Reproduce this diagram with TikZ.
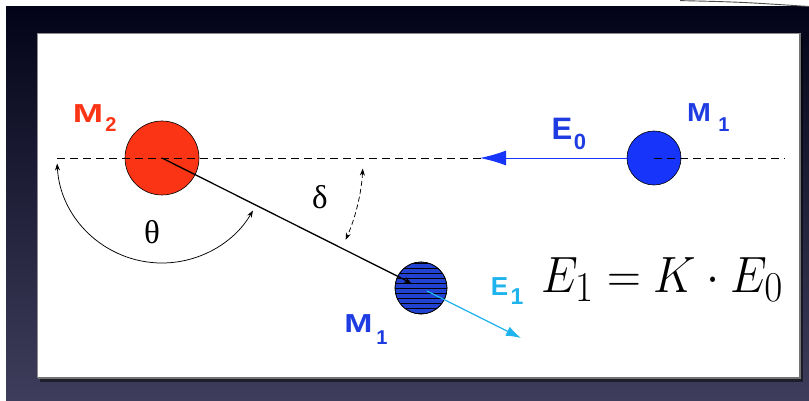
\documentclass[tikz,border=0pt]{standalone}
\usepackage{fontspec}
\newfontfamily\labfont{Liberation Sans}
\newfontfamily\grfont{Liberation Serif}
\usetikzlibrary{arrows.meta}
\definecolor{bgtop}{RGB}{3,3,24}
\definecolor{bgbot}{RGB}{62,62,92}
\definecolor{mred}{RGB}{250,52,20}
\definecolor{mblue}{RGB}{22,52,250}
\definecolor{lblue}{RGB}{30,60,225}
\definecolor{hblue}{RGB}{34,66,210}
\definecolor{ecyan}{RGB}{32,180,238}
\begin{document}
\begin{tikzpicture}[x=1pt,y=-1pt,
 lab/.style={inner sep=0pt, font=\labfont\bfseries\fontsize{26}{26}\selectfont},
 sublab/.style={inner sep=0pt, font=\labfont\bfseries\fontsize{20}{20}\selectfont},
 ball/.style={circle, draw=black, line width=0.6pt, inner sep=0pt},
 greek/.style={inner sep=0pt, font=\grfont\fontsize{33}{36}\selectfont},
 guide/.style={line width=0.8pt, dash pattern=on 8pt off 5pt},
 angarrow/.style={line width=0.75pt, >={Stealth[length=7pt,width=5pt]}, <->},
]
\useasboundingbox (0,0) rectangle (809,401);
\fill[white] (0,0) rectangle (809,401);
\shade[top color=bgtop, bottom color=bgbot] (6,7) rectangle (809,401);
\draw[black!70, line width=0.9pt] (680,0.6) .. controls (740,2) .. (809,6.5);
% panel
\fill[black, opacity=0.5] (40,37) rectangle (803,382);
\fill[white] (37,33) rectangle (800,377);
\draw[black!45, line width=0.8pt] (37,33) rectangle (800,377);
\draw[black!55, line width=2pt] (800,34) -- (800,378) -- (38,378);
% coordinates
\coordinate (dl) at (57,158);
\coordinate (dm) at (495,158);
\coordinate (dr) at (785,158);
\coordinate (e0tip) at (480,158);
\coordinate (b1) at (411,283);
\coordinate (c1) at (427,291);
\coordinate (c2) at (521,338);
% balls
\node[ball, fill=mred, minimum size=74pt] (M2) at (162,158) {};
\node[ball, fill=mblue, minimum size=54pt] (M1a) at (654,158) {};
\node[ball, fill=hblue, minimum size=52pt] (M1b) at (421,288) {};
\begin{scope}
\clip (M1b.center) circle[radius=26pt];
\foreach \yy in {-25,-20,...,25}
  \draw[black, line width=0.4pt, shift={(M1b.center)}] (-30,\yy) -- (30,\yy);
\end{scope}
\draw[line width=0.6pt] (M1b.center) circle[radius=26pt];
% dashed axis
\draw[guide] (dl) -- (dm);
\draw[guide] (M1a.center) -- (dr);
% E0 arrow
\draw[mblue, line width=0.9pt, -{Latex[length=26pt,width=15pt]}] (M1a.west) -- (e0tip);
% scattered line
\draw[line width=1.3pt, -{Stealth[length=7pt,width=6pt]}] (M2.center) -- (b1);
\draw[ecyan, line width=1.3pt, -{Latex[length=15pt,width=10pt]}] (c1) -- (c2);
% angles
\draw[angarrow] ([shift={(177:105)}]M2.center) arc[start angle=177, end angle=30, radius=105];
\draw[angarrow, dash pattern=on 5pt off 3pt] ([shift={(3:201)}]M2.center) arc[start angle=3, end angle=24, radius=201];
\node[greek] (theta) at (152,232) {θ};
\node[greek] (delta) at (320,197) {δ};
% labels
\node[lab, text=mred] (m2M) at (88,113.5) {\scalebox{1.4}[1]{M}};
\node[sublab, text=mred] (m2s) at (111,125) {2};
\node[lab, text=lblue] (m1aM) at (699,113) {\scalebox{1.1}[1]{M}};
\node[sublab, text=lblue] (m1as) at (724,124.5) {1};
\node[lab, text=lblue] (m1bM) at (358.5,324) {\scalebox{1.3}[1]{M}};
\node[sublab, text=lblue] (m1bs) at (382,337.5) {1};
\node[lab, text=lblue, font=\labfont\bfseries\fontsize{31}{31}\selectfont] (e0E) at (562,128.5) {E};
\node[sublab, text=lblue, font=\labfont\bfseries\fontsize{22}{22}\selectfont] (e0s) at (580,142) {0};
\node[lab, text=ecyan] (e1E) at (499.5,286.5) {E};
\node[sublab, text=ecyan, font=\labfont\bfseries\fontsize{23}{23}\selectfont] (e1s) at (517,297) {1};
\node[inner sep=0pt, anchor=base west, font=\fontsize{24.88}{30}\selectfont] (eq) at (541,292) {\scalebox{1.886}[2.05]{$E_1 = K\cdot E_0$}};
\end{tikzpicture}
\end{document}
